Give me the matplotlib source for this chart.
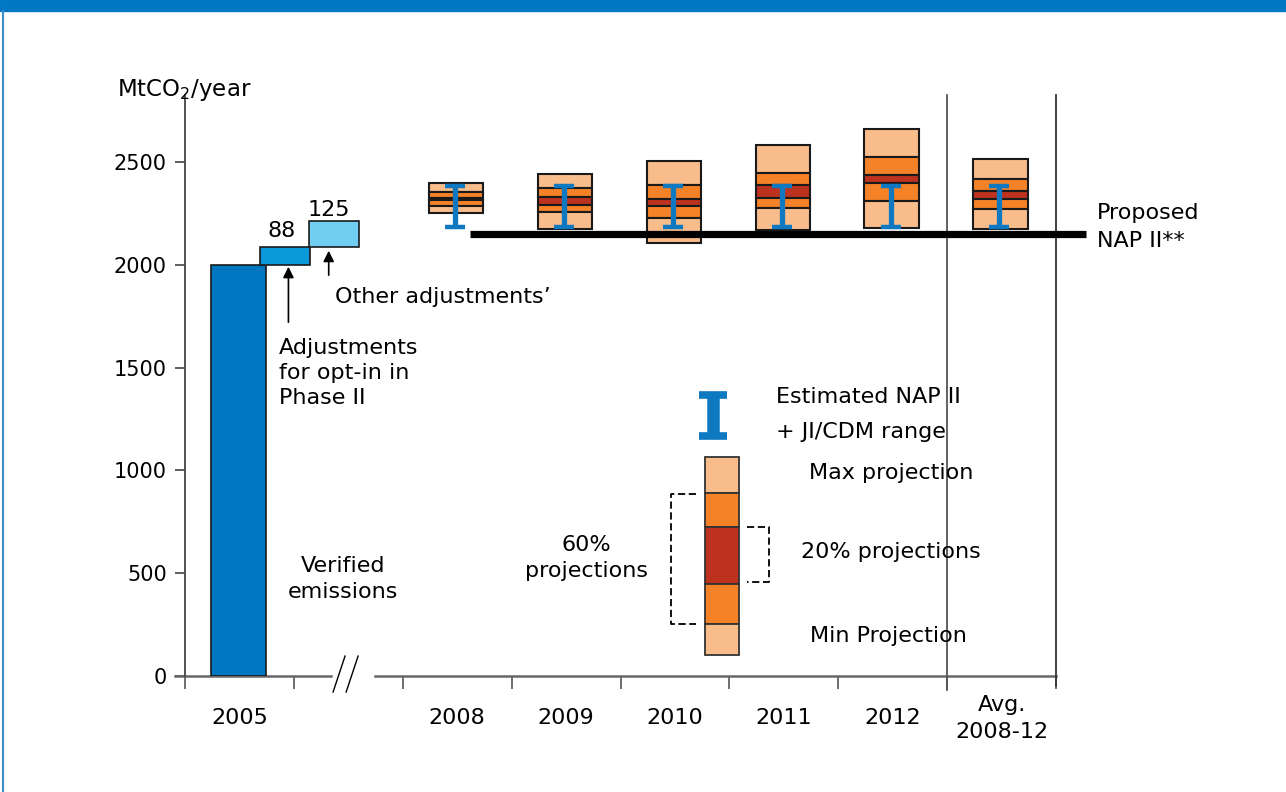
import matplotlib
matplotlib.use("Agg")
import matplotlib.pyplot as plt
from matplotlib.patches import Rectangle
from matplotlib.lines import Line2D
import numpy as np

plt.rcParams["font.family"] = ["DejaVu Sans"]

# waterfall part (2005)
verified_2005 = 2000
opt_in_adj = 88
other_adj = 125

# projection boxes per year (MtCO2/year), top to bottom boundaries
years = ["2008", "2009", "2010", "2011", "2012", "Avg.\n2008-12"]
max_proj = [2396, 2442, 2505, 2583, 2660, 2515]
upper_60 = [2356, 2372, 2388, 2445, 2523, 2416]
upper_20 = [2323, 2328, 2319, 2388, 2437, 2360]
lower_20 = [2315, 2291, 2286, 2326, 2396, 2320]
lower_60 = [2288, 2258, 2229, 2275, 2312, 2271]
min_proj = [2253, 2174, 2105, 2169, 2177, 2172]

# estimated NAP II + JI/CDM range
nap_low = [2185, 2185, 2185, 2185, 2185, 2185]
nap_high = [2385, 2385, 2385, 2385, 2385, 2385]

proposed_nap = 2151
yticks = [0, 500, 1000, 1500, 2000, 2500]

LIGHT = "#F9BD8B"
ORANGE = "#F58227"
DARK = "#BD321E"
BLUE = "#0E78C1"
EDGE = "#1a1a1a"

fig = plt.figure(figsize=(12.86, 7.92), dpi=100)
ax = fig.add_axes([185 / 1286, 116 / 792, 871 / 1286, 581 / 792])
ax.set_xlim(0, 8)
ax.set_ylim(0, 2826)

# frame decoration
fig.patches.append(Rectangle((0, 1 - 11 / 792), 1, 11 / 792, transform=fig.transFigure,
                             color="#0079C2", zorder=0))
fig.lines.append(Line2D([3 / 1286, 3 / 1286], [0, 1 - 11 / 792], transform=fig.transFigure,
                        color="#3A8FC8", lw=1.5))

# 2005 waterfall
ax.bar(0.49, verified_2005, width=0.5, color="#0077C1", edgecolor=EDGE, lw=1.2, zorder=3)
ax.bar(0.92, opt_in_adj, bottom=verified_2005, width=0.46, color="#0A9ADA", edgecolor=EDGE, lw=1.2, zorder=3)
ax.bar(1.37, other_adj, bottom=verified_2005 + opt_in_adj, width=0.46, color="#72CDF2",
       edgecolor=EDGE, lw=1.2, zorder=3)
ax.text(0.89, verified_2005 + opt_in_adj + 75, str(opt_in_adj), ha="center", va="center", fontsize=16)
ax.text(1.32, verified_2005 + opt_in_adj + other_adj + 55, str(other_adj), ha="center", va="center", fontsize=16)

# projection boxes
xs = np.arange(len(years)) + 2.49
bands = [(max_proj, upper_60, LIGHT), (upper_60, upper_20, ORANGE), (upper_20, lower_20, DARK),
         (lower_20, lower_60, ORANGE), (lower_60, min_proj, LIGHT)]
for top, bot, col in bands:
    ax.bar(xs, np.array(top) - np.array(bot), bottom=bot, width=0.5, color=col,
           edgecolor=EDGE, lw=1.5, zorder=3)

# error bars
mid = (np.array(nap_low) + np.array(nap_high)) / 2
err = [mid - np.array(nap_low), np.array(nap_high) - mid]
ax.errorbar(xs - 0.01, mid, yerr=err, fmt="none", ecolor=BLUE, elinewidth=3.8,
            capsize=7.5, capthick=3.2, zorder=5)

# proposed NAP II line
ax.plot([2.62, 8.28], [proposed_nap, proposed_nap], color="black", lw=5.2, clip_on=False, zorder=6,
        solid_capstyle="butt")
ax.text(8.38, 2184, "Proposed\nNAP II**", ha="left", va="center", fontsize=16, linespacing=1.5)

# axes styling
for s in ["top", "right", "bottom"]:
    ax.spines[s].set_visible(False)
ax.spines["left"].set_color("#444444")
ax.spines["left"].set_linewidth(1.3)
ax.set_yticks(yticks)
ax.set_yticklabels([str(v) for v in yticks], fontsize=15)
ax.tick_params(axis="y", length=7, width=1.2, color="#444444", pad=6)
ax.set_xticks(range(9))
ax.set_xticklabels([])
ax.tick_params(axis="x", length=9, width=1.2, color="#555555", direction="out")

# x axis with break
ax.plot([-0.09, 1.34], [0, 0], color="#666666", lw=1.8, clip_on=False, zorder=2)
ax.plot([1.745, 8], [0, 0], color="#666666", lw=1.8, clip_on=False, zorder=2)
ax.plot([1.36, 1.47], [-78, 97], color="black", lw=1, clip_on=False)
ax.plot([1.48, 1.59], [-78, 97], color="black", lw=1, clip_on=False)

# separators
ax.plot([7, 7], [-68, 2826], color="#555555", lw=1.3, clip_on=False)
ax.plot([8, 8], [-49, 2826], color="#333333", lw=1.3, clip_on=False)

# category labels
ax.text(0.5, -205, "2005", ha="center", va="center", fontsize=16)
for x, lab in zip(xs, years):
    ax.text(x + 0.01, -205, lab, ha="center", va="center", fontsize=16, linespacing=1.45)

ax.text(-0.62, 2850, "MtCO$_2$/year", ha="left", va="center", fontsize=16.5, clip_on=False)

# annotations
ax.text(0.86, 1474, "Adjustments\nfor opt-in in\nPhase II", ha="left", va="center", fontsize=16,
        linespacing=1.3)
ax.annotate("", xy=(0.95, 2004), xytext=(0.95, 1707),
            arrowprops=dict(arrowstyle="-|>", color="black", lw=1.2, mutation_scale=16))
ax.text(1.375, 1843, "Other adjustments\u2019", ha="left", va="center", fontsize=16)
ax.annotate("", xy=(1.32, 2082), xytext=(1.32, 1936),
            arrowprops=dict(arrowstyle="-|>", color="black", lw=1.2, mutation_scale=16))
ax.text(1.45, 472, "Verified\nemissions", ha="center", va="center", fontsize=16, linespacing=1.35)

# legend
leg_x, leg_w = 4.93, 0.31
leg_bounds = [1065, 890, 725, 447, 253, 102]
leg_cols = [LIGHT, ORANGE, DARK, ORANGE, LIGHT]
for i, col in enumerate(leg_cols):
    ax.add_patch(Rectangle((leg_x - leg_w / 2, leg_bounds[i + 1]), leg_w,
                           leg_bounds[i] - leg_bounds[i + 1], facecolor=col,
                           edgecolor="#333333", lw=1.3, zorder=3))
ax.errorbar([4.85], [1265], yerr=[[100], [100]], fmt="none", ecolor=BLUE, elinewidth=9,
            capsize=10, capthick=5.5, zorder=5)
ax.text(5.43, 1357, "Estimated NAP II", ha="left", va="center", fontsize=16)
ax.text(5.43, 1187, "+ JI/CDM range", ha="left", va="center", fontsize=16)
ax.text(5.73, 987, "Max projection", ha="left", va="center", fontsize=16)
ax.text(5.655, 605, "20% projections", ha="left", va="center", fontsize=16)
ax.text(5.74, 195, "Min Projection", ha="left", va="center", fontsize=16)
ax.text(3.69, 574, "60%\nprojections", ha="center", va="center", fontsize=16, linespacing=1.35)

# dashed brackets
ax.plot([4.69, 4.46, 4.46, 4.69], [885, 885, 253, 253], color="black", lw=1.3, ls=(0, (4, 2)))
ax.plot([5.16, 5.36, 5.36, 5.16], [725, 725, 459, 459], color="black", lw=1.3, ls=(0, (4, 2)))

fig.savefig("out.png", dpi=100)
